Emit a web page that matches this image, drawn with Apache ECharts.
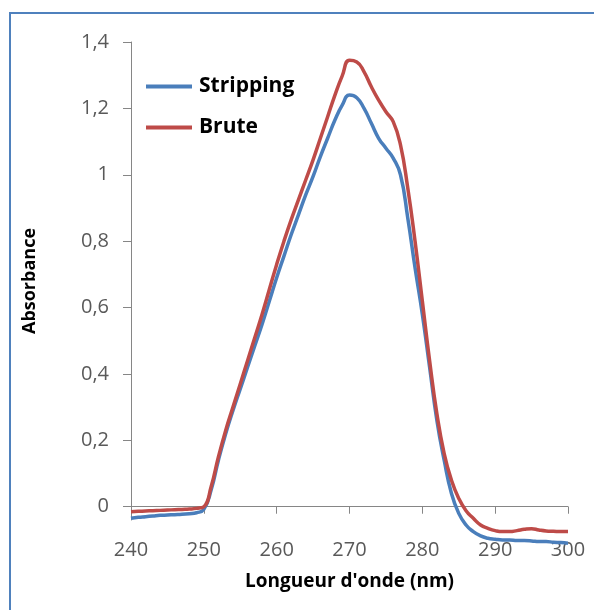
<!DOCTYPE html>
<html lang="fr">
<head>
<meta charset="utf-8">
<title>Absorbance</title>
<style>
  html, body { margin: 0; padding: 0; background: #fff; }
  #chart { width: 594px; height: 610px; }
</style>
</head>
<body>
<div id="chart"></div>
<script src="https://cdn.jsdelivr.net/npm/echarts@6/dist/echarts.min.js"></script>
<script>
// longueur d'onde (nm), pas de 1 nm
var wavelengths = [];
for (var w = 240; w <= 300; w++) wavelengths.push(w);

var stripping = [
  -0.035, -0.032, -0.030, -0.028, -0.026, -0.025, -0.024, -0.023, -0.021, -0.018,
  -0.008, 0.05, 0.14, 0.22, 0.29, 0.355, 0.42, 0.485, 0.55, 0.62,
  0.69, 0.755, 0.82, 0.88, 0.94, 0.995, 1.055, 1.11, 1.165, 1.21,
  1.24, 1.232, 1.2, 1.155, 1.11, 1.08, 1.05, 1.0, 0.87, 0.72,
  0.58, 0.42, 0.26, 0.14, 0.04, -0.02, -0.055, -0.075, -0.088, -0.095,
  -0.098, -0.100, -0.100, -0.102, -0.102, -0.103, -0.105, -0.105, -0.107, -0.108,
  -0.110
];

var brute = [
  -0.015, -0.014, -0.013, -0.012, -0.011, -0.010, -0.009, -0.008, -0.007, -0.005,
  0.0, 0.06, 0.15, 0.23, 0.30, 0.37, 0.44, 0.51, 0.58, 0.655,
  0.73, 0.80, 0.865, 0.925, 0.985, 1.045, 1.11, 1.175, 1.24, 1.298,
  1.345, 1.34, 1.31, 1.265, 1.225, 1.19, 1.16, 1.09, 0.96, 0.80,
  0.62, 0.44, 0.28, 0.16, 0.08, 0.025, -0.012, -0.035, -0.055, -0.065,
  -0.072, -0.075, -0.075, -0.072, -0.068, -0.066, -0.070, -0.073, -0.074, -0.075,
  -0.075
];

var yTicks = [0, 0.2, 0.4, 0.6, 0.8, 1, 1.2, 1.4];

function pairs(ys) {
  return wavelengths.map(function (x, i) { return [x, ys[i]]; });
}

var font = '"Open Sans", "DejaVu Sans", sans-serif';
var chart = echarts.init(document.getElementById('chart'));

chart.setOption({
  animation: false,
  textStyle: { fontFamily: font },
  graphic: [{
    type: 'rect',
    shape: { x: 10, y: 13, width: 700, height: 700 },
    style: { fill: 'none', stroke: '#4f81bd', lineWidth: 2 },
    silent: true
  }],
  grid: { left: 131, right: 26, top: 42, bottom: 90 },
  legend: {
    orient: 'vertical',
    left: 141, top: 71,
    icon: 'rect',
    itemWidth: 46, itemHeight: 4, itemGap: 20,
    textStyle: { fontFamily: font, fontSize: 21, fontWeight: 'bold', color: '#000', padding: [0, 0, 0, 2] },
    data: ['Stripping', 'Brute']
  },
  xAxis: {
    type: 'value',
    min: 240, max: 300, interval: 10,
    name: "Longueur d'onde (nm)",
    nameLocation: 'middle', nameGap: 52,
    nameTextStyle: { fontFamily: font, fontSize: 19, fontWeight: 'bold', color: '#000' },
    axisLine: { onZero: true, lineStyle: { color: '#868686', width: 1 } },
    axisTick: { length: 7, lineStyle: { color: '#868686' } },
    axisLabel: { margin: 20, fontSize: 20, color: '#595959', fontFamily: font },
    splitLine: { show: false }
  },
  yAxis: {
    type: 'value',
    min: -0.04, max: 1.4,
    name: 'Absorbance',
    nameLocation: 'middle', nameGap: 92, nameRotate: 90,
    nameTextStyle: { fontFamily: font, fontSize: 18, fontWeight: 'bold', color: '#000' },
    axisLine: { show: true, lineStyle: { color: '#868686', width: 1 } },
    axisTick: { show: true, length: 8, customValues: yTicks, lineStyle: { color: '#868686' } },
    axisLabel: {
      margin: 22, fontSize: 20, color: '#595959', fontFamily: font,
      customValues: yTicks,
      formatter: function (v) { return String(Math.round(v * 10) / 10).replace('.', ','); }
    },
    splitLine: { show: false }
  },
  series: [{
    name: 'Stripping',
    type: 'line',
    data: pairs(stripping),
    symbol: 'none',
    smooth: 0.5,
    clip: false,
    color: '#4a7ebb',
    lineStyle: { width: 3.5, color: '#4a7ebb' }
  }, {
    name: 'Brute',
    type: 'line',
    data: pairs(brute),
    symbol: 'none',
    smooth: 0.5,
    clip: false,
    color: '#be4b48',
    lineStyle: { width: 3.5, color: '#be4b48' }
  }]
});
</script>
</body>
</html>
